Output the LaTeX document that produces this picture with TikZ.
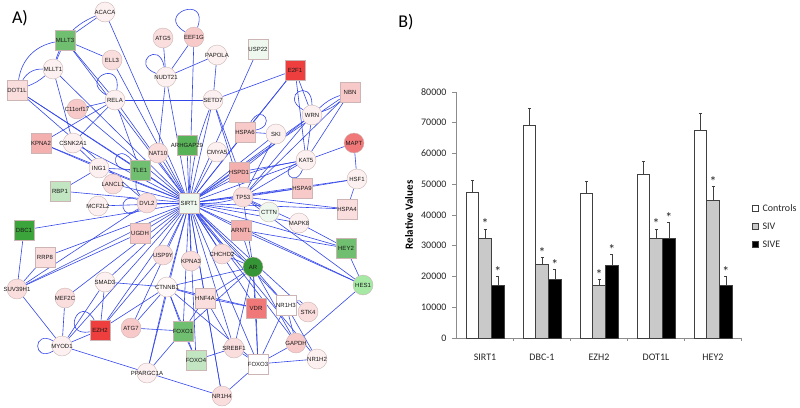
\documentclass[tikz,border=0pt]{standalone}
\usepackage{fontspec}
\setmainfont{Liberation Sans}
\newfontfamily\chartfont{Carlito}
\usetikzlibrary{backgrounds}
\definecolor{edgeblue}{HTML}{3447E8}
\definecolor{nb}{HTML}{CDB5B5}
\definecolor{pw}{HTML}{FCF0F0}
\definecolor{pl}{HTML}{FADDDD}
\definecolor{pm}{HTML}{F8C9C9}
\definecolor{pk}{HTML}{F4AFAF}
\definecolor{sal}{HTML}{F07878}
\definecolor{rd}{HTML}{EE3E3E}
\definecolor{gl}{HTML}{C2E5C2}
\definecolor{gvl}{HTML}{EEF8EE}
\definecolor{gm}{HTML}{70BF70}
\definecolor{gd}{HTML}{3BA53B}
\definecolor{axisgray}{HTML}{8C8C8C}
\definecolor{sivgray}{HTML}{C9C9C9}
\newcommand\cnd[4]{\node[cn, fill=#2] (#1) at (#3) {\makebox[0pt]{#4}};}
\newcommand\snd[4]{\node[sq, fill=#2] (#1) at (#3) {\makebox[0pt]{#4}};}
\tikzset{
  cn/.style={circle, draw=nb, line width=0.4pt, minimum size=20pt, inner sep=0pt, font=\fontsize{6}{6}\selectfont, text=black!90},
  sq/.style={rectangle, draw=nb, line width=0.4pt, minimum size=20pt, inner sep=0pt, font=\fontsize{6}{6}\selectfont, text=black!90},
  e/.style={draw=edgeblue, line width=0.6pt},
  axisline/.style={draw=axisgray, line width=0.6pt},
  barbox/.style={draw=black!75, line width=0.5pt},
  errbar/.style={draw=black!75, line width=0.5pt},
  ticklab/.style={font=\chartfont\fontsize{10}{10}\selectfont, text=black!85},
  star/.style={font=\chartfont\fontsize{14}{14}\selectfont, text=black!85},
}
\begin{document}
\begin{tikzpicture}[x=1pt,y=-1pt]
\useasboundingbox (0,0) rectangle (800,407);
% ---------------- network nodes ----------------
\cnd{ACACA}{pw}{105,12}{ACACA}
\snd{MLLT3}{gm}{65,40}{MLLT3}
\cnd{ATG5}{pl}{163,38}{ATG5}
\cnd{EEF1G}{pm}{194,37}{EEF1G}
\snd{USP22}{gvl}{258,49}{USP22}
\cnd{PAPOLA}{pw}{217,55}{PAPOLA}
\snd{E2F1}{rd}{295,70}{E2F1}
\cnd{ELL3}{pl}{112,60}{ELL3}
\cnd{MLLT1}{pw}{53,69}{MLLT1}
\cnd{NUDT21}{pw}{166,77}{NUDT21}
\snd{DOT1L}{pl}{17,90}{DOT1L}
\snd{NBN}{pm}{350,92}{NBN}
\cnd{RELA}{pw}{115,100}{RELA}
\cnd{SETD7}{pw}{213,100}{SETD7}
\cnd{C11orf17}{pm}{77,109}{C11orf17}
\cnd{WRN}{pw}{312,115}{WRN}
\snd{HSPA6}{pm}{245,132}{HSPA6}
\cnd{SKI}{pw}{276,134}{SKI}
\snd{KPNA2}{pk}{41,143}{KPNA2}
\cnd{CSNK2A1}{pw}{73,143}{CSNK2A1}
\snd{ARHGAP29}{gd!85!white}{187,145}{ARHGAP29}
\cnd{CMYA5}{pw}{217,152}{CMYA5}
\cnd{NAT10}{pl}{158,153}{NAT10}
\cnd{MAPT}{sal}{354,143}{MAPT}
\cnd{KAT5}{pw}{306,160}{KAT5}
\cnd{ING1}{pw}{99,168}{ING1}
\snd{TLE1}{gm}{140,170}{TLE1}
\snd{HSPD1}{pk}{239,172}{HSPD1}
\cnd{HSF1}{pw}{357,179}{HSF1}
\snd{RBP1}{gl}{60,191}{RBP1}
\cnd{LANCL1}{pl}{113,184}{LANCL1}
\cnd{TP53}{pl}{243,197}{TP53}
\snd{HSPA9}{pm}{302,188}{HSPA9}
\snd{SIRT1}{gvl}{189,203}{SIRT1}
\cnd{DVL2}{pl}{147,203}{DVL2}
\cnd{MCF2L2}{pw}{98,206}{MCF2L2}
\cnd{CTTN}{gvl}{269,212}{CTTN}
\snd{HSPA4}{pl}{347,209}{HSPA4}
\cnd{MAPK8}{pw}{299,223}{MAPK8}
\snd{DBC1}{gd}{24,230}{DBC1}
\snd{UGDH}{pm}{140,233}{UGDH}
\snd{ARNTL}{pk}{241,230}{ARNTL}
\snd{HEY2}{gm}{346,248}{HEY2}
\snd{RRP8}{pl}{45,257}{RRP8}
\cnd{USP9Y}{pl}{163,255}{USP9Y}
\cnd{KPNA3}{pl}{191,261}{KPNA3}
\cnd{CHCHD2}{pl}{222,254}{CHCHD2}
\cnd{AR}{gd!90!black}{253,267}{AR}
\cnd{HES1}{gl!85!green}{363,285}{HES1}
\cnd{SUV39H1}{pl}{17,289}{SUV39H1}
\cnd{SMAD3}{pw}{105,282}{SMAD3}
\cnd{CTNNB1}{pw!50!white}{167,287}{CTNNB1}
\snd{HNF4A}{pl}{205,298}{HNF4A}
\cnd{MEF2C}{pl}{65,298}{MEF2C}
\snd{VDR}{sal}{256,308}{VDR}
\snd{NR1H3}{white}{286,305}{NR1H3}
\cnd{STK4}{pl}{308,312}{STK4}
\snd{EZH2}{rd}{100,330}{EZH2}
\cnd{ATG7}{pm}{131,328}{ATG7}
\snd{FOXO1}{gm}{183,331}{FOXO1}
\cnd{MYOD1}{pw}{62,346}{MYOD1}
\snd{FOXO4}{gl}{196,360}{FOXO4}
\cnd{SREBF1}{pl}{234,348}{SREBF1}
\cnd{GAPDH}{pm}{296,343}{GAPDH}
\snd{FOXO3}{white}{258,364}{FOXO3}
\cnd{NR1H2}{pw}{317,359}{NR1H2}
\cnd{PPARGC1A}{pw}{147,373}{PPARGC1A}
\cnd{NR1H4}{pl}{222,396}{NR1H4}
% ---------------- network edges ----------------
\begin{pgfonlayer}{background}
\foreach \n in {ACACA,MLLT3,MLLT1,DOT1L,ELL3,RELA,C11orf17,KPNA2,CSNK2A1,NUDT21,EEF1G,USP22,SETD7,E2F1,HSPA6,SKI,NBN,WRN,MAPT,CMYA5,HSPD1,ARHGAP29,NAT10,TLE1,ING1,LANCL1,RBP1,MCF2L2,DVL2,TP53,HSPA9,HSPA4,HSF1,CTTN,MAPK8,ARNTL,HEY2,HES1,DBC1,UGDH,RRP8,SUV39H1,USP9Y,KPNA3,CHCHD2,AR,SMAD3,CTNNB1,HNF4A,VDR,NR1H3,STK4,MEF2C,EZH2,ATG7,FOXO1,MYOD1,FOXO4,SREBF1,GAPDH,FOXO3,NR1H2,PPARGC1A,NR1H4}
  {\draw[e] (SIRT1) -- (\n);}
\foreach \a/\b in {ACACA/MLLT3,MLLT3/MLLT1,MLLT3/ELL3,MLLT3/RELA,MLLT1/CSNK2A1,DOT1L/DVL2,DOT1L/TLE1,
  ATG5/NUDT21,EEF1G/NUDT21,NUDT21/PAPOLA,NUDT21/NAT10,PAPOLA/SETD7,E2F1/SETD7,E2F1/HSPA6,E2F1/WRN,E2F1/KAT5,
  RELA/SETD7,RELA/C11orf17,RELA/CSNK2A1,RELA/KPNA2,RELA/TLE1,SETD7/TP53,SETD7/HSPD1,NBN/KAT5,NBN/TP53,
  WRN/TP53,WRN/KAT5,WRN/HSPD1,HSPA6/SKI,SKI/TP53,KAT5/TP53,KAT5/HSPD1,HSPA9/HSF1,MAPT/HSF1,HSF1/HSPA4,
  TP53/HSPA4,TP53/MAPK8,TP53/HSPA9,TP53/CTTN,TP53/AR,TP53/HES1,ARNTL/HES1,HEY2/HES1,HES1/GAPDH,
  ING1/TLE1,ING1/KPNA2,ING1/RBP1,ING1/CSNK2A1,DBC1/SUV39H1,SUV39H1/RRP8,SUV39H1/MYOD1,SUV39H1/DVL2,SUV39H1/UGDH,
  MEF2C/MYOD1,MYOD1/EZH2,MYOD1/NR1H4,MYOD1/SMAD3,EZH2/SMAD3,EZH2/CTNNB1,EZH2/USP9Y,ATG7/FOXO1,ATG7/CTNNB1,
  CTNNB1/SMAD3,CTNNB1/FOXO1,CTNNB1/HNF4A,CTNNB1/AR,CTNNB1/PPARGC1A,CTNNB1/FOXO4,CTNNB1/VDR,CTNNB1/FOXO3,
  FOXO1/FOXO4,FOXO1/PPARGC1A,FOXO1/HNF4A,FOXO1/AR,NR1H4/FOXO3,NR1H4/HNF4A,FOXO3/SREBF1,FOXO3/GAPDH,FOXO3/NR1H2,
  FOXO3/AR,FOXO3/VDR,FOXO3/NR1H3,NR1H3/NR1H2,NR1H3/AR,NR1H3/GAPDH,AR/VDR,AR/HNF4A,AR/CHCHD2,AR/GAPDH,AR/SREBF1,
  AR/ARNTL,HNF4A/VDR,HNF4A/SREBF1,SREBF1/FOXO4,ARNTL/HEY2,MAPK8/HEY2}
  {\draw[e] (\a) -- (\b);}
% curved edges
\draw[e] (ACACA) to[bend right=25] (MLLT1);
\draw[e] (MLLT3) to[bend right=35] (DOT1L);
\draw[e] (MLLT1) to[bend right=30] (DOT1L);
\draw[e] (MLLT1) to[bend left=10] (DOT1L);
\draw[e] (NBN) to[bend right=12] (WRN);
\draw[e] (NBN) to[bend left=12] (WRN);
\draw[e] (NR1H3) to[bend left=40] (STK4);
\draw[e] (SIRT1) to[bend left=8] (SETD7);
\draw[e] (SIRT1) to[bend right=8] (TP53);
\draw[e] (SIRT1) to[bend left=10] (KAT5);
\draw[e] (SIRT1) to[bend right=10] (AR);
\draw[e] (TLE1) to[bend right=30] (DVL2);
% self loops
\draw[e] (EEF1G) to[out=150,in=70,looseness=7] (EEF1G);
\draw[e] (NUDT21) to[out=160,in=100,looseness=7] (NUDT21);
\draw[e] (RELA) to[out=150,in=80,looseness=7] (RELA);
\draw[e] (WRN) to[out=150,in=90,looseness=7] (WRN);
\draw[e] (HSPA6) to[out=60,in=10,looseness=6] (HSPA6);
\draw[e] (TLE1) to[out=130,in=180,looseness=6] (TLE1);
\draw[e] (DVL2) to[out=160,in=220,looseness=6] (DVL2);
\draw[e] (MYOD1) to[out=150,in=210,looseness=6] (MYOD1);
\draw[e] (EZH2) to[out=120,in=190,looseness=6] (EZH2);
\draw[e] (KAT5) to[out=200,in=250,looseness=6] (KAT5);
\end{pgfonlayer}
% ---------------- panel labels ----------------
\node[font=\chartfont\fontsize{18}{18}\selectfont] (labA) at (20,18) {A)};
\node[font=\chartfont\fontsize{18}{18}\selectfont] (labB) at (406,22) {B)};
% ---------------- bar chart ----------------
\draw[axisline] (456,92) -- (456,338) -- (741,338);
\foreach \k/\t in {0/0,1/10000,2/20000,3/30000,4/40000,5/50000,6/60000,7/70000,8/80000}
  {\draw[axisline] (452,{338-30.75*\k}) -- (456,{338-30.75*\k});
   \node[ticklab, anchor=east] at (450,{338-30.75*\k}) {\t};}
\foreach \i in {1,...,5}
  {\draw[axisline] ({456+57*\i},338) -- ({456+57*\i},341);}
\foreach \g/\c/\ce/\s/\se/\v/\ve/\lab in {0/47.5/51.3/32.3/35.5/17.3/20.0/SIRT1,1/69.2/74.8/24.0/26.3/19.2/22.3/DBC-1,2/47.1/51.0/17.3/19.0/23.5/27.2/EZH2,3/53.2/57.5/32.3/35.5/32.4/37.6/DOT1L,4/67.7/73.1/44.8/49.3/17.3/20.1/HEY2}
{
  \pgfmathsetmacro\xa{466+57*\g}
  \pgfmathsetmacro\xb{\xa+12.7}
  \pgfmathsetmacro\xc{\xa+25.4}
  \pgfmathsetmacro\xd{\xa+38.1}
  \pgfmathsetmacro\yc{338-3.075*\c}
  \pgfmathsetmacro\yce{338-3.075*\ce}
  \pgfmathsetmacro\ys{338-3.075*\s}
  \pgfmathsetmacro\yse{338-3.075*\se}
  \pgfmathsetmacro\yv{338-3.075*\v}
  \pgfmathsetmacro\yve{338-3.075*\ve}
  \draw[errbar] ({\xa+6.35},\yc) -- ({\xa+6.35},\yce) ({\xa+4.85},\yce) -- ({\xa+7.85},\yce);
  \draw[errbar] ({\xb+6.35},\ys) -- ({\xb+6.35},\yse) ({\xb+4.85},\yse) -- ({\xb+7.85},\yse);
  \draw[errbar] ({\xc+6.35},\yv) -- ({\xc+6.35},\yve) ({\xc+4.85},\yve) -- ({\xc+7.85},\yve);
  \draw[barbox, fill=white] (\xa,338) rectangle (\xb,\yc);
  \draw[barbox, fill=sivgray] (\xb,338) rectangle (\xc,\ys);
  \draw[barbox, fill=black] (\xc,338) rectangle (\xd,\yv);
  \node[star] at ({\xb+6.35},{\yse-5}) {*};
  \node[star] at ({\xc+6.35},{\yve-5}) {*};
  \node[ticklab] at ({485+57*\g},357) {\lab};
}
\node[font=\chartfont\bfseries\fontsize{11}{11}\selectfont, rotate=90] (ylab) at (409,215) {Relative Values};
% legend
\draw[barbox, fill=white] (752,205) rectangle (758,211);
\draw[barbox, fill=sivgray] (752,223) rectangle (758,229);
\draw[barbox, fill=black] (752,241) rectangle (758,247);
\node[ticklab, anchor=west] (lc) at (759,208) {Controls};
\node[ticklab, anchor=west] (ls) at (759,226) {SIV};
\node[ticklab, anchor=west] (lv) at (759,244) {SIVE};
\end{tikzpicture}
\end{document}
